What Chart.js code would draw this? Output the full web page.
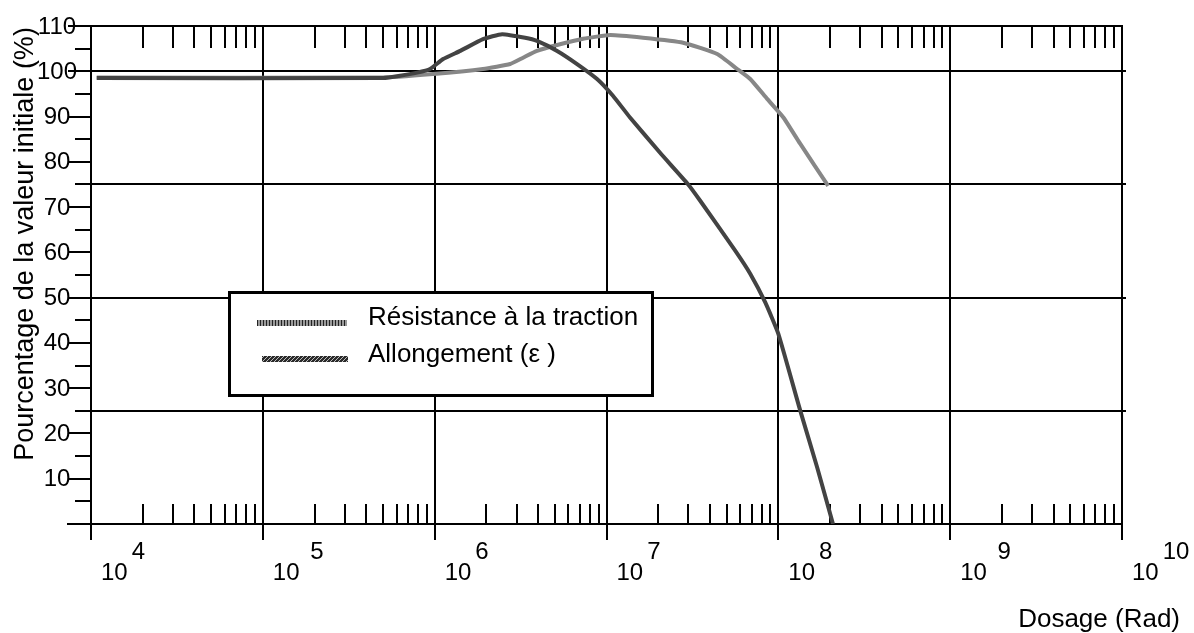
<!DOCTYPE html>
<html>
<head>
<meta charset="utf-8">
<script src="https://cdn.jsdelivr.net/npm/chart.js@4.4.1/dist/chart.umd.min.js"></script>
<style>
html,body{margin:0;padding:0;background:#fff;}
#wrap{width:1194px;height:633px;position:relative;}
canvas{display:block;}
</style>
</head>
<body>
<div id="wrap"><canvas id="c" width="1194" height="633"></canvas></div>
<script>
// ---- data ----
const doseResistance = [1.08e4, 4.81e5, 9.79e5, 1.91e6, 2.75e6, 3.27e6, 3.94e6, 5.16e6, 7.31e6, 1.05e7, 1.63e7, 2.79e7, 4.41e7, 5.76e7, 6.86e7, 8.61e7, 1.07e8, 1.34e8, 1.95e8];
const valueResistance = [98.6, 98.6, 99.4, 100.5, 101.6, 103.0, 104.5, 105.8, 107.2, 108.0, 107.4, 106.3, 103.8, 100.5, 98.3, 93.9, 89.8, 84.0, 74.7];

const doseAllongement = [1.08e4, 5.01e5, 6.29e5, 7.91e5, 9.40e5, 1.12e6, 1.41e6, 1.91e6, 2.47e6, 3.36e6, 3.94e6, 5.16e6, 6.74e6, 8.81e6, 1.09e7, 1.37e7, 2.05e7, 2.99e7, 3.51e7, 5.61e7, 6.86e7, 8.38e7, 9.98e7, 1.34e8, 1.68e8, 2.08e8];
const valueAllongement = [98.5, 98.5, 99.0, 99.7, 100.5, 102.7, 104.5, 107.1, 108.2, 107.4, 106.7, 104.5, 101.6, 98.3, 94.6, 89.8, 82.0, 75.0, 71.4, 60.4, 55.3, 49.0, 42.1, 25.1, 12.6, 0.0];

const seriesLabels = ['Résistance à la traction', 'Allongement (\u03B5 )'];
const xDecades = [1e4, 1e5, 1e6, 1e7, 1e8, 1e9, 1e10];
const xTickExponents = ['4', ' 5', '6', '7', '8', ' 9', '10'];
const xMinorMultipliers = [2, 3, 4, 5, 6, 7, 8, 9];
const yTickValues = [0, 10, 20, 30, 40, 50, 60, 70, 80, 90, 100, 110];
const yMinorStep = 5;
const yGridValues = [25, 50, 75, 100];
const yAxisTitle = 'Pourcentage de la valeur initiale (%)';
const xAxisTitle = 'Dosage (Rad)';

const FONT = '"Liberation Sans", Arial, Helvetica, sans-serif';

const framePlugin = {
  id: 'frame',
  beforeDatasetsDraw(chart) {
    const { ctx, chartArea: a, scales: { x, y } } = chart;
    const R = Math.round;
    ctx.save();
    ctx.strokeStyle = '#000';
    ctx.lineWidth = 2;
    ctx.lineCap = 'butt';
    const line = (x1, y1, x2, y2) => { ctx.beginPath(); ctx.moveTo(x1, y1); ctx.lineTo(x2, y2); ctx.stroke(); };
    const yTop = R(y.getPixelForValue(110));
    const yBot = R(y.getPixelForValue(0));
    const xL = R(x.getPixelForValue(xDecades[0]));
    const xR = R(x.getPixelForValue(xDecades[xDecades.length - 1]));

    // horizontal grid lines
    yGridValues.forEach(v => { const py = R(y.getPixelForValue(v)); line(xL - 16, py, xR + 4, py); });
    // top border and bottom axis
    line(xL - 23, yTop, xR + 1, yTop);
    line(xL - 24, yBot, xR + 1, yBot);
    // y ticks
    for (let v = 0; v <= 110; v += yMinorStep) {
      const py = R(y.getPixelForValue(v));
      const len = (v % 10 === 0) ? 23 : 16;
      line(xL - len, py, xL, py);
    }
    // decade lines
    xDecades.forEach(d => { const px = R(x.getPixelForValue(d)); line(px, yTop - 1, px, yBot + 16); });
    // minor ticks top and bottom
    for (let i = 0; i < xDecades.length - 1; i++) {
      xMinorMultipliers.forEach(m => {
        const px = R(x.getPixelForValue(xDecades[i] * m));
        line(px, yTop, px, yTop + 22);
        line(px, yBot, px, yBot - 20);
      });
    }

    // y tick labels
    ctx.fillStyle = '#000';
    ctx.font = '24px ' + FONT;
    ctx.textAlign = 'center';
    ctx.textBaseline = 'alphabetic';
    yTickValues.forEach(v => {
      if (v === 0) return;
      const py = y.getPixelForValue(v);
      ctx.fillText(String(v), 57, py + 7.5);
    });

    // x tick labels 10^n
    ctx.textAlign = 'left';
    xDecades.forEach((d, i) => {
      const px = x.getPixelForValue(d);
      const bx = px + 10;
      ctx.fillText('10', bx, 580);
      const w = ctx.measureText('10').width;
      ctx.fillText(xTickExponents[i], bx + w + 4, 559);
    });

    // axis titles
    ctx.font = '26px ' + FONT;
    ctx.textAlign = 'right';
    ctx.fillText(xAxisTitle, 1180, 627);

    ctx.save();
    ctx.font = '27px ' + FONT;
    ctx.translate(33, 244);
    ctx.rotate(-Math.PI / 2);
    ctx.textAlign = 'center';
    ctx.fillText(yAxisTitle, 0, 0);
    ctx.restore();

    ctx.restore();
  },
  afterDatasetsDraw(chart) {
    const { ctx } = chart;
    ctx.save();
    // legend box
    ctx.fillStyle = '#fff';
    ctx.fillRect(228, 291, 426, 106);
    ctx.strokeStyle = '#000';
    ctx.lineWidth = 3;
    ctx.strokeRect(229.5, 292.5, 423, 103);

    // sample 1: vertical stripes
    ctx.fillStyle = '#9a9a9a';
    ctx.fillRect(257, 320, 90, 6);
    ctx.fillStyle = '#222';
    for (let px = 257; px < 347; px += 3) ctx.fillRect(px, 320, 1, 6);

    // sample 2: diagonal hatch
    ctx.fillStyle = '#2a2a2a';
    ctx.fillRect(262, 356, 86, 6);
    ctx.save();
    ctx.beginPath(); ctx.rect(262, 356, 86, 6); ctx.clip();
    ctx.strokeStyle = '#bdbdbd'; ctx.lineWidth = 1;
    for (let px = 258; px < 352; px += 4) { ctx.beginPath(); ctx.moveTo(px, 362); ctx.lineTo(px + 6, 356); ctx.stroke(); }
    ctx.restore();

    ctx.fillStyle = '#000';
    ctx.font = '26px ' + FONT;
    ctx.textAlign = 'left';
    ctx.textBaseline = 'alphabetic';
    ctx.fillText(chart.data.datasets[0].label, 368, 325);
    ctx.fillText(chart.data.datasets[1].label, 368, 362);
    ctx.restore();
  }
};

const toPts = (xs, ys) => xs.map((d, i) => ({ x: d, y: ys[i] }));

new Chart(document.getElementById('c'), {
  type: 'line',
  data: {
    datasets: [
      { label: seriesLabels[0], data: toPts(doseResistance, valueResistance), borderColor: '#878787', borderWidth: 4, pointRadius: 0, tension: 0.15, fill: false, order: 2 },
      { label: seriesLabels[1], data: toPts(doseAllongement, valueAllongement), borderColor: '#434343', borderWidth: 4, pointRadius: 0, tension: 0.15, fill: false, order: 1 }
    ]
  },
  options: {
    responsive: false,
    animation: false,
    devicePixelRatio: 1,
    layout: { padding: { left: 91, right: 72, top: 26, bottom: 109 } },
    scales: {
      x: { type: 'logarithmic', min: 1e4, max: 1e10, display: false },
      y: { type: 'linear', min: 0, max: 110, display: false }
    },
    plugins: { legend: { display: false }, tooltip: { enabled: false } }
  },
  plugins: [framePlugin]
});
</script>
</body>
</html>
